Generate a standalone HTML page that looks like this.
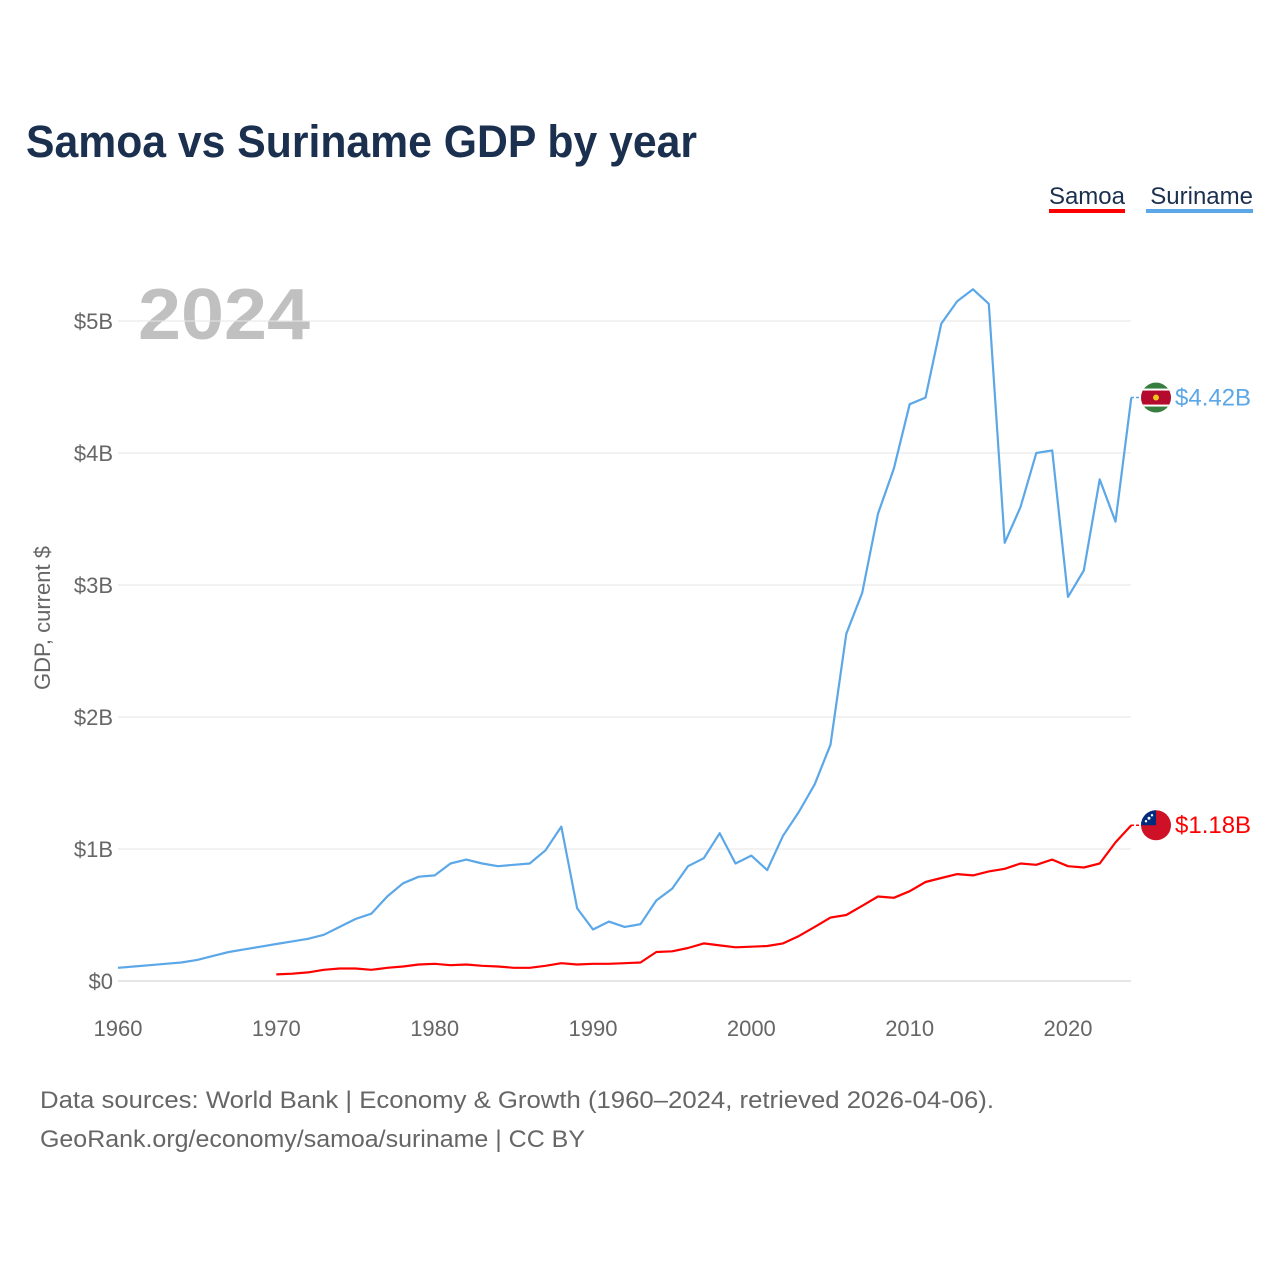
<!DOCTYPE html>
<html><head><meta charset="utf-8">
<style>
html,body{margin:0;padding:0;background:#fff;}
body{width:1280px;height:1280px;position:relative;overflow:hidden;font-family:"Liberation Sans",sans-serif;}
</style></head>
<body>
<svg id="chart" width="1280" height="1280" xmlns="http://www.w3.org/2000/svg" style="position:absolute;left:0;top:0">
<text x="26" y="157" font-size="45" font-weight="bold" fill="#1b2f4f" textLength="671" lengthAdjust="spacingAndGlyphs" font-family="Liberation Sans, sans-serif">Samoa vs Suriname GDP by year</text>
<g>
 <text x="1125" y="204" text-anchor="end" font-size="24" fill="#1b2f4f">Samoa</text>
 <rect x="1049" y="209" width="76" height="4" fill="#ff0000"/>
 <text x="1253" y="204" text-anchor="end" font-size="24" fill="#1b2f4f">Suriname</text>
 <rect x="1146" y="209" width="107" height="4" fill="#5ba7e8"/>
</g>
<text x="138" y="339" font-size="72" font-weight="bold" fill="#c0c0c0" textLength="172" lengthAdjust="spacingAndGlyphs">2024</text>
<text transform="translate(50,618) rotate(-90)" text-anchor="middle" font-size="22" fill="#666">GDP, current $</text>
<g id="grid"></g><g id="yticks"></g><g id="xticks"></g><g id="lines"></g><g id="ends"></g>
<text x="40" y="1108" font-size="24" fill="#666" textLength="954" lengthAdjust="spacingAndGlyphs">Data sources: World Bank | Economy &amp; Growth (1960–2024, retrieved 2026-04-06).</text>
<text x="40" y="1147" font-size="24" fill="#666" textLength="545" lengthAdjust="spacingAndGlyphs">GeoRank.org/economy/samoa/suriname | CC BY</text>
</svg>
<script>
const surinameYears=[1960,1961,1962,1963,1964,1965,1966,1967,1968,1969,1970,1971,1972,1973,1974,1975,1976,1977,1978,1979,1980,1981,1982,1983,1984,1985,1986,1987,1988,1989,1990,1991,1992,1993,1994,1995,1996,1997,1998,1999,2000,2001,2002,2003,2004,2005,2006,2007,2008,2009,2010,2011,2012,2013,2014,2015,2016,2017,2018,2019,2020,2021,2022,2023,2024];
const surinameGDP=[0.10,0.11,0.12,0.13,0.14,0.16,0.19,0.22,0.24,0.26,0.28,0.30,0.32,0.35,0.41,0.47,0.51,0.64,0.74,0.79,0.80,0.89,0.92,0.89,0.87,0.88,0.89,0.99,1.17,0.55,0.39,0.45,0.41,0.43,0.61,0.70,0.87,0.93,1.12,0.89,0.95,0.84,1.10,1.28,1.49,1.79,2.63,2.94,3.54,3.88,4.37,4.42,4.98,5.15,5.24,5.13,3.32,3.59,4.00,4.02,2.91,3.11,3.80,3.48,4.42];
const samoaYears=[1970,1971,1972,1973,1974,1975,1976,1977,1978,1979,1980,1981,1982,1983,1984,1985,1986,1987,1988,1989,1990,1991,1992,1993,1994,1995,1996,1997,1998,1999,2000,2001,2002,2003,2004,2005,2006,2007,2008,2009,2010,2011,2012,2013,2014,2015,2016,2017,2018,2019,2020,2021,2022,2023,2024];
const samoaGDP=[0.05,0.055,0.065,0.085,0.095,0.095,0.085,0.10,0.11,0.125,0.13,0.12,0.125,0.115,0.11,0.10,0.10,0.115,0.135,0.125,0.13,0.13,0.135,0.14,0.22,0.225,0.25,0.285,0.27,0.255,0.26,0.265,0.285,0.34,0.41,0.48,0.50,0.57,0.64,0.63,0.68,0.75,0.78,0.81,0.80,0.83,0.85,0.89,0.88,0.92,0.87,0.86,0.89,1.05,1.18];
const yTicks=[0,1,2,3,4,5];
const yTickLabels=["$0","$1B","$2B","$3B","$4B","$5B"];
const xTicks=[1960,1970,1980,1990,2000,2010,2020];
const NS="http://www.w3.org/2000/svg";
const x=yr=>118+(yr-1960)*(950/60);
const y=v=>981-v*132;
function mk(t,a,p){const e=document.createElementNS(NS,t);for(const k in a)e.setAttribute(k,a[k]);p.appendChild(e);return e;}
const grid=document.getElementById('grid'),yt=document.getElementById('yticks'),xt=document.getElementById('xticks');
yTicks.forEach((v,i)=>{
 const l=mk('line',{x1:118,x2:1131,y1:y(v),y2:y(v),stroke:v===0?'#ccc':'#e6e6e6','stroke-width':1},grid);
 
 
 const t=mk('text',{x:113,y:y(v)+8,'text-anchor':'end','font-size':22,fill:'#666'},yt);
 t.textContent=yTickLabels[i];
 
 
});
xTicks.forEach(v=>{
 const t=mk('text',{x:x(v),y:1036,'text-anchor':'middle','font-size':22,fill:'#666'},xt);
 t.textContent=v;
 
 
});
const lines=document.getElementById('lines');
function series(xs,vs,color,name){
 const d=xs.map((yr,i)=>(i?'L':'M')+x(yr).toFixed(1)+','+y(vs[i]).toFixed(1)).join('');
 const p=mk('path',{d:d,fill:'none',stroke:color,'stroke-width':2.2,'stroke-linejoin':'round'},lines);
 
 
}
series(surinameYears,surinameGDP,'#5ba7e8','suriname-line');
series(samoaYears,samoaGDP,'#ff0000','samoa-line');
const ends=document.getElementById('ends');
function endLabel(val,color,name,flag){
 const yy=y(val);
 const ln=mk('line',{x1:1131,x2:1141,y1:yy,y2:yy,stroke:color,'stroke-width':1.5,'stroke-dasharray':'3,2'},ends);
 
 
 const g=mk('g',{},ends);
 
 
 flag(g,1156,yy);
 const t=mk('text',{x:1175,y:yy+8,'font-size':24,fill:color},ends);
 t.textContent='$'+val.toFixed(2)+'B';
 
 
}
endLabel(surinameGDP[surinameGDP.length-1],'#5ba7e8','suriname',(g,cx,cy)=>{
 mk('clipPath',{id:'cs'},g).appendChild(document.createElementNS(NS,'circle')).setAttribute('r',15);
 const c=g.lastChild.firstChild;c.setAttribute('cx',cx);c.setAttribute('cy',cy);
 const gg=mk('g',{'clip-path':'url(#cs)'},g);
 mk('rect',{x:cx-15,y:cy-15,width:30,height:30,fill:'#377e3f'},gg);
 mk('rect',{x:cx-15,y:cy-9,width:30,height:18,fill:'#fff'},gg);
 mk('rect',{x:cx-15,y:cy-7,width:30,height:14,fill:'#b40a2d'},gg);
 mk('circle',{cx:cx,cy:cy,r:3,fill:'#ecc81d'},gg);
});
endLabel(samoaGDP[samoaGDP.length-1],'#ff0000','samoa',(g,cx,cy)=>{
 mk('circle',{cx:cx,cy:cy,r:15,fill:'#ce1126'},g);
 mk('path',{d:`M${cx-15},${cy} A15,15 0 0 1 ${cx} ${cy-15} L${cx},${cy} Z`,fill:'#002b7f'},g);
 mk('circle',{cx:cx-7,cy:cy-7,r:1.5,fill:'#fff'},g);
 mk('circle',{cx:cx-4,cy:cy-10,r:1.2,fill:'#fff'},g);
 mk('circle',{cx:cx-10,cy:cy-4,r:1.2,fill:'#fff'},g);
});
</script>
</body></html>
